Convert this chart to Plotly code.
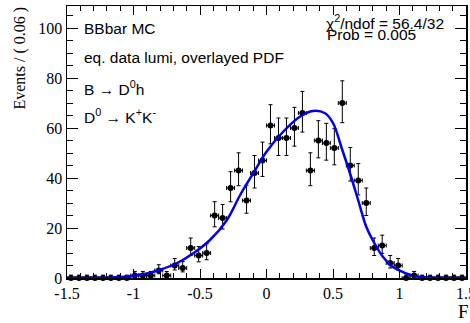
import numpy as np
import plotly.graph_objects as go

# ---- data ----
bin_width = 0.06
x_min = -1.5
counts = [0, 0, 0, 0, 0, 0, 0, 0, 1, 1,
          1, 3, 1, 5, 4, 12, 9, 10, 25, 24,
          36, 43, 31, 42, 47, 61, 56, 56, 60, 66,
          43, 55, 54, 52, 70, 45, 39, 30, 12, 13,
          6, 5, 0, 1, 0, 0, 0, 0, 0, 0]

# fitted PDF
pdf_x = [-1.5, -1.3, -1.15, -1.05, -0.9, -0.8, -0.675, -0.55, -0.425, -0.3,
         -0.2, -0.087, 0.0, 0.125, 0.25, 0.35, 0.44, 0.5, 0.565, 0.63,
         0.69, 0.75, 0.8, 0.875, 0.95, 1.0, 1.05, 1.12, 1.25, 1.5]
pdf_y = [0.0, 0.05, 0.25, 0.6, 1.8, 3.3, 5.9, 9.9, 15.2, 23.0,
         33.0, 43.0, 50.5, 58.5, 64.5, 66.8, 65.9, 62.0, 52.0, 41.5,
         31.0, 20.5, 15.0, 8.5, 4.4, 3.0, 1.8, 0.7, 0.1, 0.0]

x_tickvals = [-1.5, -1.0, -0.5, 0.0, 0.5, 1.0, 1.5]
x_ticktext = ["-1.5", "-1", "-0.5", "0", "0.5", "1", "1.5"]
y_tickvals = [0, 20, 40, 60, 80, 100]
y_ticktext = ["0", "20", "40", "60", "80", "100"]

# ---- derived ----
n = np.array(counts, dtype=float)
centers = x_min + bin_width * (np.arange(len(counts)) + 0.5)
root = np.sqrt(n + 0.25)
err_up = np.where(n > 0, root + 0.5, 1.15)
err_dn = np.where(n > 0, root - 0.5, 0.0)

fig = go.Figure()
fig.add_trace(go.Scatter(
    x=centers, y=n, mode="markers",
    marker=dict(color="black", size=6),
    error_y=dict(type="data", symmetric=False, array=err_up, arrayminus=err_dn,
                 color="black", thickness=1, width=2),
    error_x=dict(type="constant", value=bin_width / 2, color="black",
                 thickness=1, width=2),
    showlegend=False, hoverinfo="skip", cliponaxis=False))
fig.add_trace(go.Scatter(
    x=pdf_x, y=pdf_y, mode="lines",
    line=dict(color="#0000ee", width=2.5, shape="spline", smoothing=1.0),
    showlegend=False, hoverinfo="skip"))

serif = "Liberation Serif, Times New Roman, serif"
sans = "Liberation Sans, Arial, Helvetica, sans-serif"

fig.update_layout(
    width=470, height=323,
    margin=dict(l=67, r=4, t=6, b=45, autoexpand=False),
    paper_bgcolor="white", plot_bgcolor="white",
    xaxis=dict(range=[-1.5, 1.5], tickvals=x_tickvals, ticktext=x_ticktext,
               automargin=False, ticklabeloverflow="allow",
               ticks="inside", ticklen=9, tickcolor="black", tickwidth=1,
               minor=dict(ticks="inside", ticklen=5, dtick=0.1, tick0=-1.5,
                          tickcolor="black", tickwidth=1),
               showline=True, linecolor="black", linewidth=1.5,
               mirror="allticks", showgrid=False, zeroline=False,
               tickfont=dict(family=serif, size=16, color="black")),
    yaxis=dict(range=[0, 108.8], tickvals=y_tickvals, ticktext=y_ticktext,
               automargin=False, ticklabeloverflow="allow",
               ticks="inside", ticklen=11, tickcolor="black", tickwidth=1,
               minor=dict(ticks="inside", ticklen=6, dtick=5, tick0=0,
                          tickcolor="black", tickwidth=1),
               showline=True, linecolor="black", linewidth=1.5,
               mirror="allticks", showgrid=False, zeroline=False,
               tickfont=dict(family=serif, size=16, color="black")),
)

def ann(text, x, y, size=15.5, family=sans, **kw):
    d = dict(text=text, x=x, y=y, xref="x", yref="y", showarrow=False,
             xanchor="left", yanchor="middle",
             font=dict(family=family, size=size, color="black"))
    d.update(kw)
    fig.add_annotation(**d)

ann("BBbar MC", -1.385, 100.0)
ann("eq. data lumi, overlayed PDF", -1.385, 88.4)
ann("B → D<sup>0</sup>h", -1.385, 76.0)
ann("D<sup>0</sup> → K<sup>+</sup>K<sup>-</sup>", -1.385, 64.8)
ann("χ<sup>2</sup>/ndof = 56.4/32", 0.435, 102.4)
ann("Prob = 0.005", 0.44, 97.4)

# y-axis title (top aligned like ROOT)
fig.add_annotation(text="Events / ( 0.06 )", xref="paper", yref="paper",
                   x=-0.118, y=0.81, xanchor="center", yanchor="middle",
                   textangle=-90, showarrow=False,
                   font=dict(family=serif, size=16, color="black"))
# x-axis title (cut at the edge)
fig.add_annotation(text="F", xref="paper", yref="paper",
                   x=0.975, y=-0.122, xanchor="left", yanchor="middle",
                   showarrow=False,
                   font=dict(family=serif, size=19, color="black"))

fig.write_html(
    "out.html",
    config={"displayModeBar": False, "staticPlot": True},
    post_script="document.body.style.margin='0';document.body.style.padding='0';"
                "document.body.style.overflow='hidden';",
)
